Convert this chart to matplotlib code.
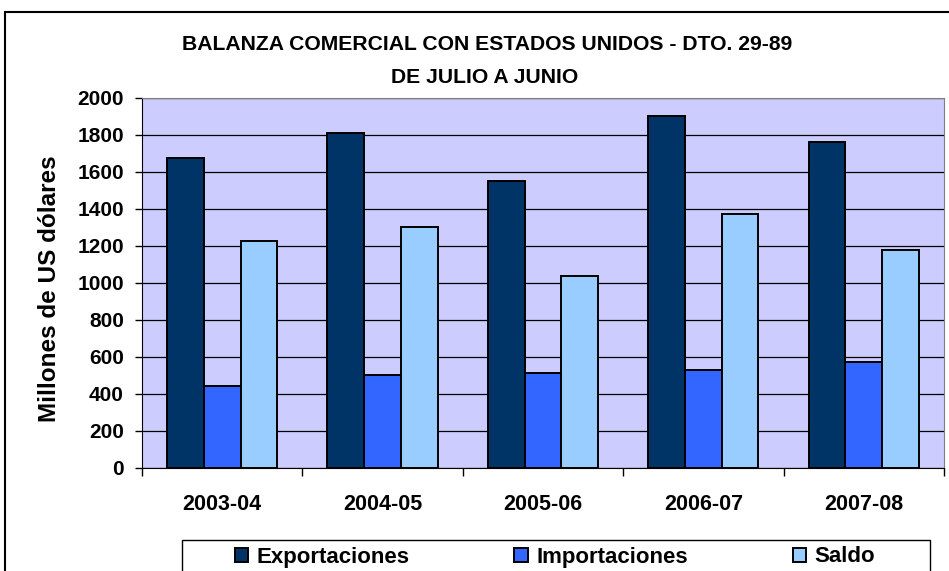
import numpy as np
from matplotlib import pyplot as plt
from matplotlib.patches import Rectangle

periodos = ['2003-04', '2004-05', '2005-06', '2006-07', '2007-08']
exportaciones = [1676, 1809, 1551, 1905, 1760]
importaciones = [445, 504, 515, 530, 575]
saldo = [1227, 1300, 1036, 1373, 1180]

plt.rcParams['font.family'] = ['Liberation Sans', 'DejaVu Sans']
plt.rcParams['font.weight'] = 'bold'

fig = plt.figure(figsize=(9.49, 5.71), dpi=100)
ax = fig.add_axes([0.1496, 0.1804, 0.8451, 0.648])
ax.set_facecolor('#CCCCFF')

x = np.arange(len(periodos))
w = 0.229
series = [(exportaciones, '#003366', 'Exportaciones'),
          (importaciones, '#3366FF', 'Importaciones'),
          (saldo, '#99CCFF', 'Saldo')]
for i, (vals, color, label) in enumerate(series):
    ax.bar(x + (i - 1) * w, vals, w, color=color, edgecolor='black',
           linewidth=1.4, label=label, zorder=3)

ax.set_xlim(-0.5, len(periodos) - 0.5)
ax.set_ylim(0, 2000)
ax.set_yticks(range(0, 2001, 200))
ax.yaxis.grid(True, color='black', linewidth=0.9, zorder=0)
ax.set_axisbelow(True)

# category boundary ticks, Excel style
ax.set_xticks(np.arange(-0.5, len(periodos), 1.0))
ax.set_xticklabels([])
ax.set_xticks(x, minor=True)
ax.set_xticklabels(periodos, minor=True, fontsize=15.5, fontweight='bold')
ax.tick_params(axis='x', which='minor', length=0, pad=19)
ax.tick_params(axis='x', which='major', length=6, width=1, direction='out')
ax.tick_params(axis='y', labelsize=15, length=5, width=1, direction='out', pad=8)
for lab in ax.get_yticklabels():
    lab.set_fontweight('bold')

for s in ['top', 'right']:
    ax.spines[s].set_color('#808080')
ax.spines['left'].set_color('black')
ax.spines['bottom'].set_color('black')

ax.set_ylabel('Millones de US dólares', fontsize=17.5, fontweight='bold')
ax.yaxis.set_label_coords(-0.101, 0.484)

fig.text(487 / 949, 1 - 45 / 571, 'BALANZA COMERCIAL CON ESTADOS UNIDOS - DTO. 29-89',
         ha='center', va='center', fontsize=15.2, fontweight='bold')
fig.text(485 / 949, 1 - 77 / 571, 'DE JULIO A JUNIO', ha='center', va='center',
         fontsize=15.2, fontweight='bold')

# legend box drawn separately, it runs past the bottom edge
fig.patches.append(Rectangle((182 / 949, -0.05), (930 - 182) / 949, 0.05 + 1 - 540 / 571,
                             transform=fig.transFigure, fill=False,
                             edgecolor='black', linewidth=1.0))
leg = fig.legend(loc='center', bbox_to_anchor=(555 / 949, 1 - 557 / 571),
                 ncol=3, frameon=False, fontsize=16, handlelength=0.6,
                 handleheight=0.6, handletextpad=0.4, columnspacing=4.7)

# outer chart border
fig.patches.append(Rectangle((5 / 949, -0.05), 1.1, 1 - 12 / 571 + 0.05,
                             transform=fig.transFigure, fill=False,
                             edgecolor='black', linewidth=1.5))

plt.savefig('out.png', dpi=100)
